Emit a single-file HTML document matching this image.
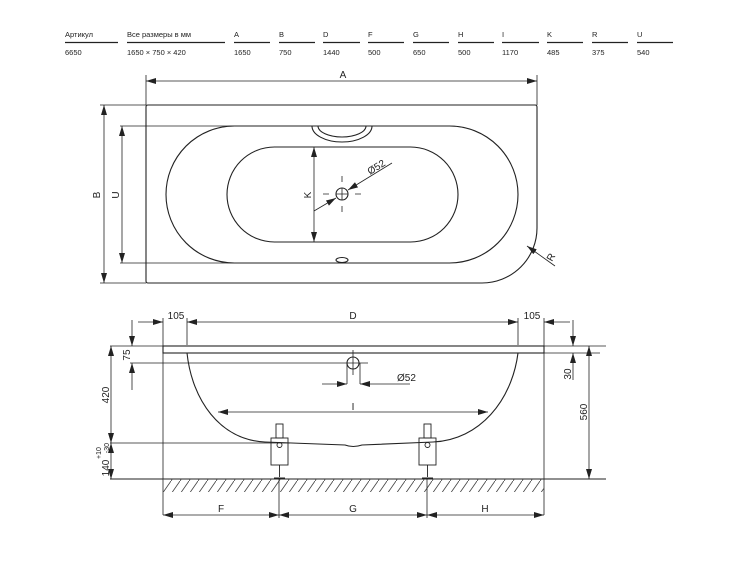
<!DOCTYPE html>
<html><head><meta charset="utf-8"><style>
body{margin:0;background:#fff;}
svg{display:block;font-family:"Liberation Sans",sans-serif;}
</style></head><body>
<svg width="750" height="563" viewBox="0 0 750 563" xmlns="http://www.w3.org/2000/svg">
<defs>
<marker id="a" viewBox="0 0 10 6" refX="10" refY="3" markerWidth="10" markerHeight="6" orient="auto-start-reverse" markerUnits="userSpaceOnUse"><path d="M0,0L10,3L0,6z" fill="#222"/></marker>
<pattern id="h" width="9" height="13" patternUnits="userSpaceOnUse"><path d="M0,13L9,0" stroke="#444" stroke-width="0.8"/></pattern>
</defs>
<g font-size="7.5" fill="#222">
<text x="65" y="37">Артикул</text><text x="127" y="37">Все размеры в мм</text>
<text x="234" y="37">A</text><text x="279" y="37">B</text><text x="323" y="37">D</text><text x="368" y="37">F</text><text x="413" y="37">G</text><text x="458" y="37">H</text><text x="502" y="37">I</text><text x="547" y="37">K</text><text x="592" y="37">R</text><text x="637" y="37">U</text>
<text x="65" y="55">6650</text><text x="127" y="55">1650 × 750 × 420</text>
<text x="234" y="55">1650</text><text x="279" y="55">750</text><text x="323" y="55">1440</text><text x="368" y="55">500</text><text x="413" y="55">650</text><text x="458" y="55">500</text><text x="502" y="55">1170</text><text x="547" y="55">485</text><text x="592" y="55">375</text><text x="637" y="55">540</text>
</g>
<g stroke="#222" stroke-width="1.2">
<path d="M65 42.5H118M127 42.5H225M234 42.5H270M279 42.5H315M323 42.5H360M368 42.5H404M413 42.5H449M458 42.5H494M502 42.5H539M547 42.5H583M592 42.5H628M637 42.5H673"/>
</g>
<g stroke="#222" stroke-width="1.1" fill="none">
<path d="M148 105H535Q537 105 537 107V228A55 55 0 0 1 482 283H148Q146 283 146 281V107Q146 105 148 105Z"/>
<rect x="166" y="126" width="352" height="137" rx="68.5"/>
<rect x="227" y="147" width="231" height="95" rx="47.5"/>
<path d="M312 126A30 16 0 0 0 372 126M318 126A24 11 0 0 0 366 126" />
<circle cx="342" cy="194" r="6"/>
<path d="M336 194H348M342 188V200" stroke-width="0.8"/>
<path d="M323 194H329M355 194H361M342 176V182M342 206V212" stroke-width="0.8"/>
<ellipse cx="342" cy="260" rx="6" ry="2.5"/>
<path d="M146 81H537" marker-start="url(#a)" marker-end="url(#a)" stroke-width="0.8"/>
<path d="M146 75V105M537 75V105" stroke-width="0.8"/>
<path d="M104 105V283" marker-start="url(#a)" marker-end="url(#a)" stroke-width="0.8"/>
<path d="M100 105H146M100 283H146" stroke-width="0.8"/>
<path d="M122 126V263" marker-start="url(#a)" marker-end="url(#a)" stroke-width="0.8"/>
<path d="M120 126H235M120 263H235" stroke-width="0.8"/>
<path d="M314 147V242" marker-start="url(#a)" marker-end="url(#a)" stroke-width="0.8"/>
<path d="M314 211L336 198" marker-end="url(#a)" stroke-width="0.8"/>
<path d="M392 163L348 190" marker-end="url(#a)" stroke-width="0.8"/>
<path d="M555 266L527 246" marker-end="url(#a)" stroke-width="0.8"/>
<rect x="163" y="346" width="381" height="7"/>
<path d="M110 346H163M544 346H606M544 353H600" stroke-width="0.8"/>
<path d="M187 353C192 400 220 440 265 442L345 445Q353 448 362 445L433 442C480 440 512 400 518 353"/>
<path d="M163 318V515M544 318V515M187 318V345M518 318V345" stroke-width="0.8"/>
<path d="M138 322H163" marker-end="url(#a)" stroke-width="0.8"/>
<path d="M187 322H518" marker-start="url(#a)" marker-end="url(#a)" stroke-width="0.8"/>
<path d="M570 322H544" marker-end="url(#a)" stroke-width="0.8"/>
<circle cx="353" cy="363" r="6"/>
<path d="M130 363H368M353 350V375M347 363V384M360 363V384" stroke-width="0.8"/>
<path d="M322 384H347" marker-end="url(#a)" stroke-width="0.8"/>
<path d="M410 384H360" marker-end="url(#a)" stroke-width="0.8"/>
<path d="M132 320V346" marker-end="url(#a)" stroke-width="0.8"/>
<path d="M132 390V363" marker-end="url(#a)" stroke-width="0.8"/>
<path d="M111 346V443" marker-start="url(#a)" marker-end="url(#a)" stroke-width="0.8"/>
<path d="M111 443V479" marker-start="url(#a)" marker-end="url(#a)" stroke-width="0.8"/>
<path d="M110 443H290" stroke-width="0.8"/>
<path d="M573 320V346" marker-end="url(#a)" stroke-width="0.8"/>
<path d="M573 380V353" marker-end="url(#a)" stroke-width="0.8"/>
<path d="M589 346V479" marker-start="url(#a)" marker-end="url(#a)" stroke-width="0.8"/>
<path d="M218 412H488" marker-start="url(#a)" marker-end="url(#a)" stroke-width="0.8"/>
<path d="M110 479H606"/>
<rect x="163" y="479" width="381" height="13" fill="url(#h)" stroke="none"/>
<g stroke-width="0.9">
<rect x="271" y="438" width="17" height="27"/><rect x="276" y="424" width="7" height="14"/><circle cx="279.5" cy="445" r="2.5"/><path d="M279.5 465V477M274 478H285"/>
<rect x="419" y="438" width="17" height="27"/><rect x="424" y="424" width="7" height="14"/><circle cx="427.5" cy="445" r="2.5"/><path d="M427.5 465V477M422 478H433"/>
</g>
<path d="M279 479V518M427 479V518" stroke-width="0.8"/>
<path d="M163 515H279" marker-start="url(#a)" marker-end="url(#a)" stroke-width="0.8"/>
<path d="M279 515H427" marker-start="url(#a)" marker-end="url(#a)" stroke-width="0.8"/>
<path d="M427 515H544" marker-start="url(#a)" marker-end="url(#a)" stroke-width="0.8"/>
</g>
<g font-size="10" fill="#222">
<text x="343" y="78" text-anchor="middle">A</text>
<text transform="translate(100,195) rotate(-90)" text-anchor="middle">B</text>
<text transform="translate(119,195) rotate(-90)" text-anchor="middle">U</text>
<text transform="translate(311,195) rotate(-90)" text-anchor="middle">K</text>
<text transform="translate(370,175) rotate(-32)">Ø52</text>
<text transform="translate(552,262) rotate(-60)">R</text>
<text x="176" y="319" text-anchor="middle">105</text>
<text x="353" y="319" text-anchor="middle">D</text>
<text x="532" y="319" text-anchor="middle">105</text>
<text transform="translate(130,355) rotate(-90)" text-anchor="middle">75</text>
<text transform="translate(109,395) rotate(-90)" text-anchor="middle">420</text>
<text transform="translate(109,468) rotate(-90)" text-anchor="middle">140</text>
<text transform="translate(101,453) rotate(-90)" text-anchor="middle" font-size="7">+10</text>
<text transform="translate(109,448) rotate(-90)" text-anchor="middle" font-size="7">-30</text>
<text x="397" y="381">Ø52</text>
<text x="353" y="410" text-anchor="middle">I</text>
<text transform="translate(571,374) rotate(-90)" text-anchor="middle">30</text>
<text transform="translate(587,412) rotate(-90)" text-anchor="middle">560</text>
<text x="221" y="512" text-anchor="middle">F</text>
<text x="353" y="512" text-anchor="middle">G</text>
<text x="485" y="512" text-anchor="middle">H</text>
</g>
</svg>
</body></html>
